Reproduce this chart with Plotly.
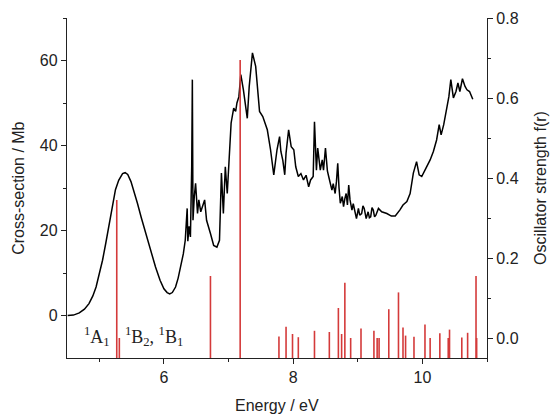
import plotly.graph_objects as go

# Experimental cross-section curve (Energy eV, Mb)
energy = [4.51, 4.60, 4.69, 4.77, 4.84, 4.90, 4.95, 5.00, 5.05, 5.10, 5.15, 5.20, 5.25, 5.30, 5.33, 5.36,
          5.40, 5.44, 5.49, 5.54, 5.59, 5.65, 5.72, 5.80, 5.87, 5.94, 6.00, 6.05, 6.09, 6.13,
          6.18, 6.22, 6.26, 6.30, 6.33, 6.36, 6.37, 6.39, 6.41, 6.43, 6.44, 6.45, 6.47, 6.49, 6.52, 6.54,
          6.57, 6.60, 6.63, 6.66, 6.69,
          6.72, 6.77, 6.82, 6.86, 6.89, 6.92, 6.95, 6.98, 7.02, 7.04, 7.08, 7.11, 7.13, 7.16, 7.19,
          7.23, 7.29, 7.32, 7.37, 7.42, 7.48, 7.53, 7.60, 7.65, 7.70, 7.75, 7.79, 7.81, 7.84, 7.87, 7.89,
          7.93, 7.97, 8.01, 8.04, 8.08, 8.12, 8.16, 8.20, 8.24, 8.27, 8.31, 8.33, 8.36, 8.38, 8.42, 8.45,
          8.47, 8.50, 8.53, 8.55, 8.58, 8.60, 8.62, 8.65, 8.67, 8.69, 8.71, 8.73, 8.76, 8.78, 8.80, 8.82,
          8.84, 8.86, 8.88, 8.91, 8.93, 8.96, 8.98, 9.01, 9.03, 9.06, 9.08,
          9.10, 9.13, 9.16, 9.18, 9.20, 9.22, 9.24, 9.26, 9.28, 9.32, 9.37, 9.45, 9.52, 9.58, 9.65, 9.70,
          9.76, 9.81, 9.86, 9.91, 9.95, 9.99, 10.04, 10.12, 10.17, 10.22, 10.26, 10.29, 10.33, 10.37,
          10.41, 10.44, 10.48, 10.52, 10.55, 10.58, 10.62, 10.66, 10.69, 10.73, 10.78]
cross_section = [0.0, 0.1, 0.6, 1.5, 2.8, 4.6, 6.7, 9.6, 13.0, 17.0, 20.9, 25.6, 29.6, 31.8, 32.8, 33.4,
                 33.6, 33.2, 31.5, 29.2, 26.4, 23.0, 19.3, 15.0, 11.4, 8.3, 6.3, 5.4, 5.1, 5.4,
                 6.7, 8.8, 11.4, 14.5, 17.7, 25.2, 17.5, 21.0, 18.5, 35.0, 55.5, 22.4, 28.0, 31.1, 24.0, 27.2,
                 24.4, 25.6, 27.2, 22.4, 21.0,
                 19.3, 16.5, 16.1, 17.7, 33.5, 24.0, 35.0, 28.7, 39.7, 45.3, 48.8, 48.0, 50.0, 51.5, 56.7,
                 53.1, 46.4, 53.9, 61.8, 58.6, 48.0, 46.8, 43.7, 39.0, 33.1, 39.0, 42.1, 38.6, 36.5, 33.1, 38.2,
                 43.7, 39.7, 39.0, 35.0, 32.7, 33.4, 31.9, 33.0, 30.3, 31.9, 32.7, 45.6, 34.2, 39.4, 34.2, 36.6,
                 34.2, 39.4, 34.0, 32.7, 30.6, 29.5, 31.0, 28.7, 31.5, 35.8, 30.0, 26.4, 28.0, 25.6, 27.5, 28.7,
                 26.0, 30.7, 27.2, 24.8, 26.3, 24.4, 22.8, 25.2, 23.6, 24.0, 25.8,
                 25.2, 22.8, 24.4, 23.0, 23.2, 25.4, 24.8, 23.2, 23.6, 25.2, 24.4, 24.0, 23.4, 23.4, 24.8, 26.0,
                 26.8, 28.7, 33.5, 36.2, 33.1, 32.7, 34.2, 36.6, 38.6, 41.3, 44.9, 42.5, 44.9, 48.4,
                 51.5, 55.5, 51.2, 52.7, 54.7, 52.7, 55.7, 53.9, 53.1, 52.7, 50.9]

# Calculated transitions (Energy eV, oscillator strength)
trans_energy = [5.27, 5.31, 6.72, 7.18, 7.78, 7.89, 7.99, 8.08, 8.33, 8.56, 8.70, 8.75, 8.80, 8.89,
                9.05, 9.25, 9.30, 9.33, 9.48, 9.63, 9.70, 9.74, 9.87, 10.04, 10.12, 10.27, 10.40,
                10.42, 10.61, 10.70, 10.83, 10.84]
osc_strength = [0.345, 0.0, 0.155, 0.695, 0.004, 0.028, 0.010, 0.002, 0.018, 0.015, 0.075, 0.010,
                0.138, 0.0, 0.024, 0.018, 0.0, 0.0, 0.072, 0.114, 0.026, 0.006, 0.003, 0.034, 0.0,
                0.012, 0.0, 0.021, 0.001, 0.013, 0.155, 0.0]

x_title = "Energy / eV"
y_title = "Cross-section / Mb"
y2_title = "Oscillator strength f(r)"

y2_min = -0.05
bx, by = [], []
for e, f in zip(trans_energy, osc_strength):
    bx += [e, e, None]
    by += [y2_min, f, None]

fig = go.Figure()
fig.add_trace(go.Scatter(x=bx, y=by, yaxis="y2", mode="lines",
                         line=dict(color="#d43a3a", width=1.6), hoverinfo="skip"))
fig.add_trace(go.Scatter(x=energy, y=cross_section, mode="lines",
                         line=dict(color="black", width=1.5)))

tickfont = dict(family="Liberation Sans, Arial", size=16, color="#222")
titlefont = dict(family="Liberation Sans, Arial", size=16, color="#222")

axis_common = dict(showline=True, linecolor="#222", linewidth=1.3, ticks="outside", ticklen=5,
                   tickcolor="#222", showgrid=False, zeroline=False, tickfont=tickfont, automargin=False)

fig.update_layout(
    width=556, height=417,
    margin=dict(l=67, r=69, t=18, b=59),
    paper_bgcolor="white", plot_bgcolor="white",
    showlegend=False,
    xaxis=dict(range=[4.5, 11], tickvals=[6, 8, 10],
               minor=dict(tickvals=[5, 7, 9, 11], ticks="outside", ticklen=3, tickcolor="#222"),
               **axis_common),
    yaxis=dict(range=[-10, 70], tickvals=[0, 20, 40, 60],
               minor=dict(tickvals=[10, 30, 50, 70], ticks="outside", ticklen=3, tickcolor="#222"),
               **axis_common),
    yaxis2=dict(range=[-0.05, 0.8], overlaying="y", side="right", tickvals=[0.0, 0.2, 0.4, 0.6, 0.8],
                ticktext=["0.0", "0.2", "0.4", "0.6", "0.8"],
                minor=dict(tickvals=[0.1, 0.3, 0.5, 0.7], ticks="outside", ticklen=3, tickcolor="#222"),
                **axis_common),
)

# axis titles
fig.add_annotation(x=0.5, y=-0.139, xref="paper", yref="paper", text=x_title, showarrow=False,
                   font=titlefont, xanchor="center", yanchor="middle")
fig.add_annotation(x=-0.117, y=0.5, xref="paper", yref="paper", text=y_title, showarrow=False,
                   font=titlefont, textangle=-90, xanchor="center", yanchor="middle")
fig.add_annotation(x=1.126, y=0.5, xref="paper", yref="paper", text=y2_title, showarrow=False,
                   font=titlefont, textangle=-90, xanchor="center", yanchor="middle")

serif = dict(family="Liberation Serif, Times New Roman", size=18, color="#222")
fig.add_annotation(x=4.96, y=-5, xref="x", yref="y", text="<sup>1</sup>A<sub>1</sub>",
                   showarrow=False, font=serif)
fig.add_annotation(x=5.84, y=-5, xref="x", yref="y", text="<sup>1</sup>B<sub>2</sub>, <sup>1</sup>B<sub>1</sub>",
                   showarrow=False, font=serif)

fig.write_html("out.html")
